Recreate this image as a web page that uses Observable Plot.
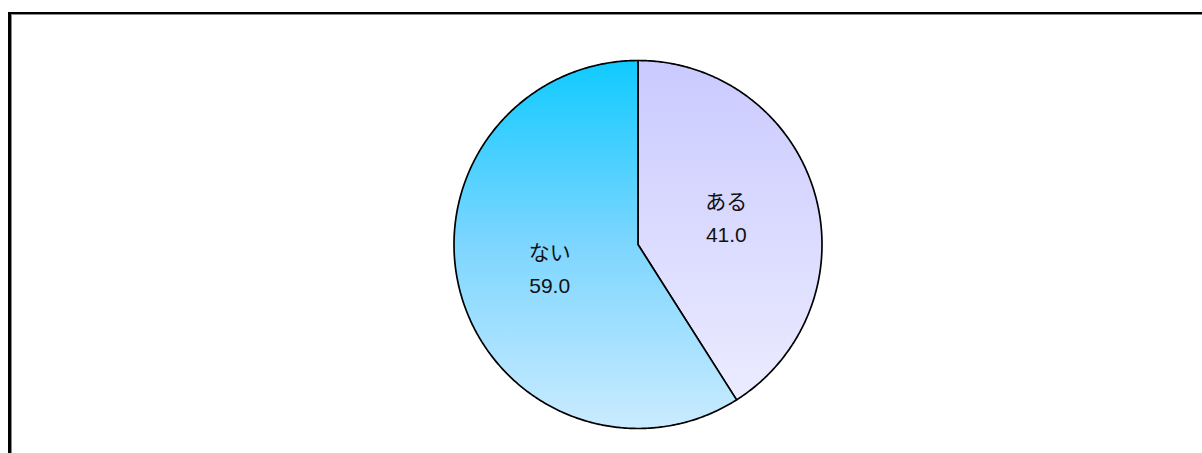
<!DOCTYPE html>
<html>
<head>
<meta charset="utf-8">
<script src="https://cdn.jsdelivr.net/npm/d3@7"></script>
<script src="https://cdn.jsdelivr.net/npm/@observablehq/plot@0.6"></script>
<style>
  html, body { margin: 0; padding: 0; background: #fff; }
  #wrap { position: relative; width: 1202px; height: 453px; overflow: hidden; }
  #frame { position: absolute; left: 8px; top: 12px; width: 1230px; height: 480px;
           border-left: 3px solid #000; border-top: 2px solid #000;
           box-shadow: inset 1px 1px 0 #8a8a8a; pointer-events: none; }
  svg { display: block; }
</style>
</head>
<body>
<div id="wrap"><div id="chart"></div><div id="frame"></div></div>
<script>
// ---- data ----
const categories = ["ある", "ない"];
const values = [41.0, 59.0];
const valueLabels = ["41.0", "59.0"];
const gradientIds = ["gradAru", "gradNai"];

// ---- layout ----
const W = 1202, H = 453;
const R = 184;          // pie radius in px
const CX = 637.5, CY = 244;
const labelRadius = 0.5;

const total = d3.sum(values);
let acc = 0;
const slices = categories.map((c, i) => {
  const a0 = acc / total * 2 * Math.PI;
  acc += values[i];
  const a1 = acc / total * 2 * Math.PI;
  return {cat: c, value: values[i], label: valueLabels[i], a0, a1, fill: `url(#${gradientIds[i]})`};
});

// polygon points (unit circle, clockwise from 12 o'clock)
const points = [];
for (const s of slices) {
  points.push({cat: s.cat, fill: s.fill, x: 0, y: 0});
  const n = Math.max(2, Math.ceil((s.a1 - s.a0) / (Math.PI / 360)));
  for (let k = 0; k <= n; k++) {
    const a = s.a0 + (s.a1 - s.a0) * k / n;
    points.push({cat: s.cat, fill: s.fill, x: Math.sin(a), y: Math.cos(a)});
  }
}
const labels = slices.map(s => {
  const m = (s.a0 + s.a1) / 2;
  return {x: labelRadius * Math.sin(m), y: labelRadius * Math.cos(m), text: s.cat + "\n" + s.label};
});

const chart = Plot.plot({
  width: W, height: H, margin: 0,
  x: {domain: [-CX / R, (W - CX) / R], axis: null},
  y: {domain: [-(H - CY) / R, CY / R], axis: null},
  color: {type: "identity"},
  marks: [
    Plot.line(points, {x: "x", y: "y", z: "cat", fill: "fill", stroke: "#000", strokeWidth: 1.7,
                       strokeLinejoin: "round", curve: "linear-closed"}),
    Plot.text(labels, {x: "x", y: "y", text: "text", fontSize: 21, lineHeight: 1.55, dy: -4,
                       fill: "#111", fontFamily: "'Liberation Sans', 'Noto Sans CJK JP', sans-serif"})
  ]
});

// gradients spanning the pie vertically
const ys = chart.scale("y");
const yTop = ys.apply(1), yBot = ys.apply(-1);
const ns = "http://www.w3.org/2000/svg";
const defs = document.createElementNS(ns, "defs");
const gradStops = {
  gradAru: [[0, "#CACAFF"], [1, "#EEEEFF"]],
  gradNai: [[0, "#10CAFF"], [0.5, "#7DD6FF"], [1, "#CAEBFF"]]
};
for (const id of gradientIds) {
  const g = document.createElementNS(ns, "linearGradient");
  g.setAttribute("id", id);
  g.setAttribute("gradientUnits", "userSpaceOnUse");
  g.setAttribute("x1", 0); g.setAttribute("x2", 0);
  g.setAttribute("y1", yTop); g.setAttribute("y2", yBot);
  for (const [o, c] of gradStops[id]) {
    const st = document.createElementNS(ns, "stop");
    st.setAttribute("offset", o);
    st.setAttribute("stop-color", c);
    g.appendChild(st);
  }
  defs.appendChild(g);
}
chart.insertBefore(defs, chart.firstChild);
document.getElementById("chart").appendChild(chart);
</script>
</body>
</html>
